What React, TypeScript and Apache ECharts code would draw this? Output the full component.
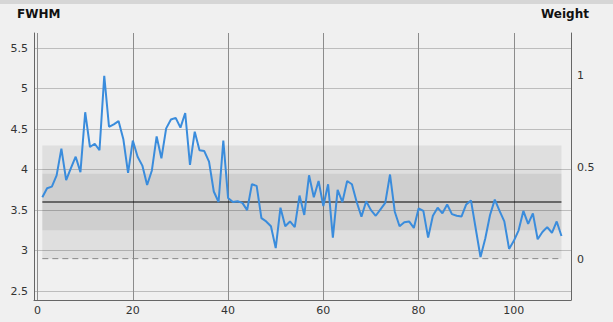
import React, { useEffect, useRef } from "react";
import * as echarts from "echarts";

const xValues: number[] = Array.from({ length: 110 }, (_, i) => i + 1);
const fwhm: number[] = [
  3.66, 3.77, 3.79, 3.93, 4.26, 3.87, 4.02, 4.16, 3.97, 4.71,
  4.28, 4.32, 4.24, 5.16, 4.53, 4.56, 4.6, 4.38, 3.96, 4.36,
  4.16, 4.05, 3.81, 3.99, 4.41, 4.14, 4.51, 4.62, 4.64, 4.52,
  4.7, 4.06, 4.47, 4.24, 4.23, 4.1, 3.73, 3.6, 4.36, 3.65,
  3.6, 3.61, 3.59, 3.5, 3.82, 3.8, 3.4, 3.36, 3.3, 3.03,
  3.53, 3.3, 3.36, 3.29, 3.68, 3.44, 3.93, 3.66, 3.86, 3.55,
  3.82, 3.16, 3.75, 3.6, 3.86, 3.82, 3.6, 3.42, 3.61, 3.5,
  3.43, 3.51, 3.59, 3.94, 3.48, 3.3, 3.35, 3.36, 3.28, 3.52,
  3.49, 3.16, 3.43, 3.53, 3.46, 3.57, 3.45, 3.43, 3.42, 3.57,
  3.62, 3.27, 2.92, 3.15, 3.44, 3.63, 3.49, 3.36, 3.02, 3.12,
  3.25, 3.49, 3.33, 3.46, 3.14, 3.23, 3.29, 3.22, 3.36, 3.18,
];
const meanValue = 3.6;
const sigma = 0.35;
const dashedValue = 2.9;
const xTicks: number[] = [0, 20, 40, 60, 80, 100];
const leftTicks: number[] = [2.5, 3, 3.5, 4, 4.5, 5, 5.5];
const rightTicks: number[] = [0, 0.5, 1];

const FONT = "DejaVu Sans";

export default function App() {
  const ref = useRef<HTMLDivElement>(null);
  useEffect(() => {
    document.body.style.margin = "0";
    const chart = echarts.init(ref.current!, null, { renderer: "svg" });
    const x0 = xValues[0];
    const x1 = xValues[xValues.length - 1];
    chart.setOption({
      animation: false,
      backgroundColor: "#f0f0f0",
      textStyle: { fontFamily: FONT },
      grid: { left: 34, right: 42, top: 33, bottom: 22, containLabel: false },
      graphic: [
        { type: "rect", left: 0, top: 0, shape: { width: 613, height: 4 }, style: { fill: "#d6d6d6" } },
        {
          type: "text", x: 17, y: 8,
          style: { text: "FWHM", fontFamily: FONT, fontWeight: "bold", fontSize: 12, fill: "#111" },
        },
        {
          type: "text", x: 541, y: 8,
          style: { text: "Weight", fontFamily: FONT, fontWeight: "bold", fontSize: 12, fill: "#111" },
        },
      ],
      xAxis: {
        type: "value",
        min: -0.75,
        max: 112,
        axisLine: { show: true, onZero: false, lineStyle: { color: "#666" } },
        axisTick: { show: false, customValues: xTicks },
        axisLabel: { customValues: xTicks, color: "#333", fontSize: 11, margin: 5, fontFamily: FONT },
        splitLine: { show: true, lineStyle: { color: "#8c8c8c", width: 1 } },
      },
      yAxis: [
        {
          type: "value",
          min: 2.389,
          max: 5.689,
          axisLine: { show: true, onZero: false, lineStyle: { color: "#666" } },
          axisTick: { show: false, customValues: leftTicks },
          axisLabel: { customValues: leftTicks, color: "#333", fontSize: 11, margin: 6, fontFamily: FONT },
          splitLine: { show: true, lineStyle: { color: "#bdbdbd", width: 1 } },
        },
        {
          type: "value",
          position: "right",
          min: -0.221,
          max: 1.228,
          axisLine: { show: true, onZero: false, lineStyle: { color: "#666" } },
          axisTick: { show: false, customValues: rightTicks },
          axisLabel: { customValues: rightTicks, color: "#333", fontSize: 11, margin: 6, fontFamily: FONT },
          splitLine: { show: false },
        },
      ],
      series: [
        {
          type: "line",
          data: [[x0, dashedValue], [x1, dashedValue]],
          symbol: "none",
          silent: true,
          lineStyle: { color: "#888", width: 1, type: [6, 4] },
          markArea: {
            silent: true,
            itemStyle: { color: "rgba(0,0,0,0.07)" },
            data: [
              [{ xAxis: x0, yAxis: meanValue - 2 * sigma }, { xAxis: x1, yAxis: meanValue + 2 * sigma }],
              [{ xAxis: x0, yAxis: meanValue - sigma }, { xAxis: x1, yAxis: meanValue + sigma }],
            ],
          },
          z: 1,
        },
        {
          type: "line",
          data: [[x0, meanValue], [x1, meanValue]],
          symbol: "none",
          silent: true,
          lineStyle: { color: "#000", width: 1.2 },
          z: 2,
        },
        {
          type: "line",
          data: xValues.map((x, i) => [x, fwhm[i]]),
          symbol: "none",
          lineStyle: { color: "#3a8cdc", width: 2 },
          z: 3,
        },
      ],
    });
    return () => chart.dispose();
  }, []);
  return <div ref={ref} style={{ position: "fixed", left: 0, top: 0, width: 613, height: 322 }} />;
}
